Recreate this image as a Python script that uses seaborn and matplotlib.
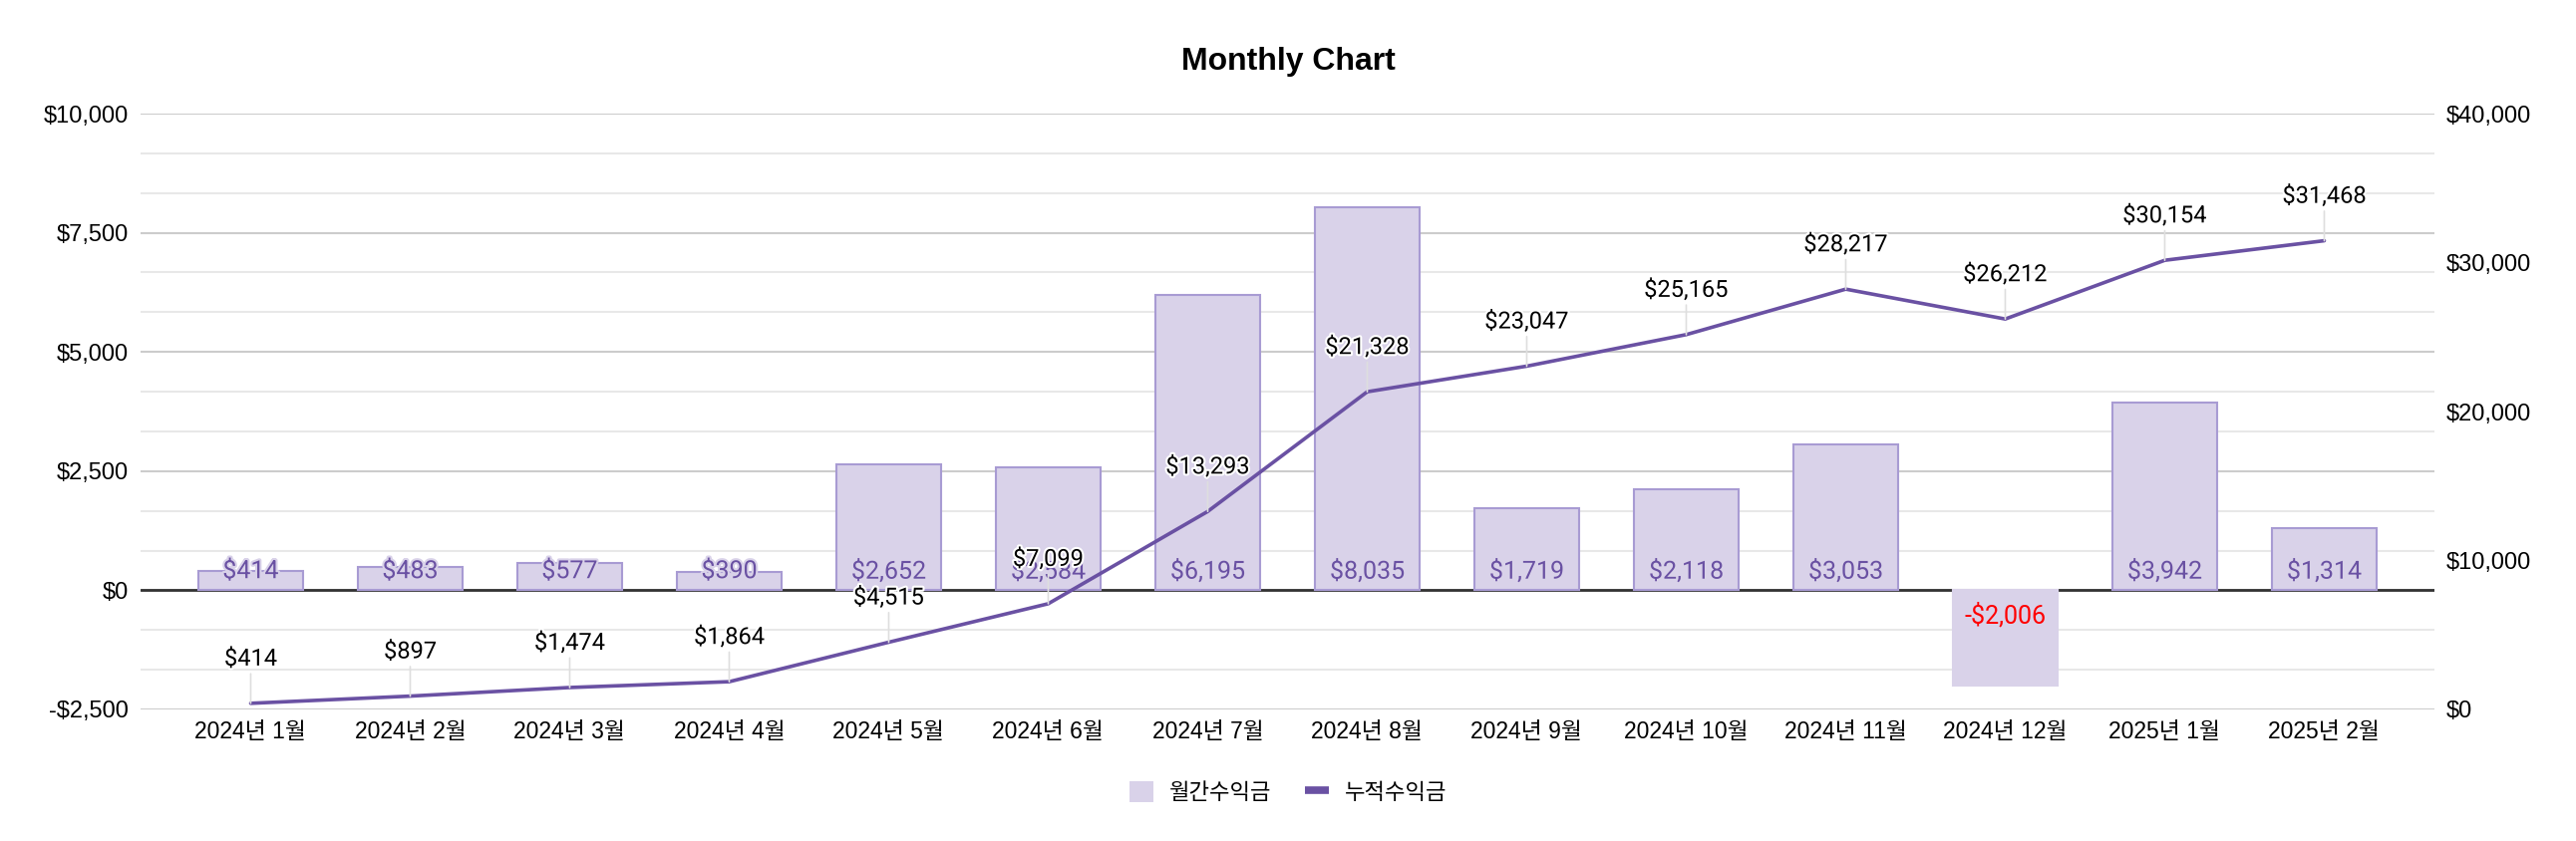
import matplotlib
matplotlib.use("Agg")
import matplotlib.pyplot as plt
import matplotlib.ticker as ticker
import matplotlib.patheffects as pe
from matplotlib.patches import Patch
from matplotlib.lines import Line2D
import seaborn as sns
import pandas as pd
import numpy as np

months = ["2024년 1월", "2024년 2월", "2024년 3월", "2024년 4월", "2024년 5월",
          "2024년 6월", "2024년 7월", "2024년 8월", "2024년 9월", "2024년 10월",
          "2024년 11월", "2024년 12월", "2025년 1월", "2025년 2월"]
monthly = [414, 483, 577, 390, 2652, 2584, 6195, 8035, 1719, 2118, 3053, -2006, 3942, 1314]
cumulative = [414, 897, 1474, 1864, 4515, 7099, 13293, 21328, 23047, 25165, 28217, 26212, 30154, 31468]
left_ticks = [-2500, 0, 2500, 5000, 7500, 10000]
right_ticks = [0, 10000, 20000, 30000, 40000]

BAR = "#d9d2e9"
EDGE = "#a89bd3"
LINE = "#6a51a3"
LABEL = "#6a51a3"

sns.set_theme(style="white")
plt.rcParams["font.family"] = ["Liberation Sans", "Noto Sans CJK KR", "DejaVu Sans"]
plt.rcParams["text.color"] = "black"

df = pd.DataFrame({"month": months, "monthly": monthly, "cumulative": cumulative})
df["pos"] = np.arange(len(df))


def money(v):
    return f"-${-v:,.0f}" if v < 0 else f"${v:,.0f}"


fig = plt.figure(figsize=(25.84, 8.44), dpi=100)
ax = fig.add_axes([0.0546, 0.1564, 0.8904, 0.7085])

sns.barplot(data=df, x="month", y="monthly", ax=ax, color=BAR, saturation=1,
            edgecolor=EDGE, linewidth=1.5, width=0.66)
# negative bar has no outline
for p, v in zip(ax.patches, monthly):
    if v < 0:
        p.set_edgecolor(BAR)

ax.set_ylim(-2500, 10000)
ax.set_yticks(left_ticks)
ax.yaxis.set_minor_locator(ticker.MultipleLocator(2500 / 3))
ax.yaxis.set_major_formatter(ticker.FuncFormatter(lambda x, pos: money(x)))
ax.grid(which="major", axis="y", color="#cccccc", lw=1.5)
ax.grid(which="minor", axis="y", color="#e8e8e8", lw=1.5)
ax.set_axisbelow(True)
ax.axhline(0, color="#333333", lw=2, zorder=0.9)
for s in ax.spines.values():
    s.set_visible(False)
ax.set_xlabel("")
ax.set_ylabel("")

for i, v in enumerate(monthly):
    if v >= 0:
        ax.annotate(money(v), xy=(i, 0), xytext=(0, 14), textcoords="offset points",
                    ha="center", va="center", color=LABEL, fontsize=18, family="Roboto",
                    path_effects=[pe.withStroke(linewidth=3, foreground=BAR)])
    else:
        ax.annotate(money(v), xy=(i, 0), xytext=(0, -18), textcoords="offset points",
                    ha="center", va="center", color="red", fontsize=18, family="Roboto")

ax2 = ax.twinx()
sns.lineplot(data=df, x="pos", y="cumulative", ax=ax2, color=LINE, lw=2.6)
ax2.set_ylim(0, 40000)
ax2.set_yticks(right_ticks)
ax2.yaxis.set_major_formatter(ticker.FuncFormatter(lambda x, pos: money(x)))
ax2.grid(False)
for s in ax2.spines.values():
    s.set_visible(False)
ax2.set_xlabel("")
ax2.set_ylabel("")

for i, c in enumerate(cumulative):
    ax2.annotate(money(c), xy=(i, c), xytext=(0, 32), textcoords="offset points",
                 ha="center", va="center", fontsize=17, family="Roboto", color="black",
                 path_effects=[pe.withStroke(linewidth=3, foreground="white")],
                 arrowprops=dict(arrowstyle="-", color="#dedede", lw=1.2,
                                 shrinkA=0, shrinkB=0))

ax.set_xlim(-0.69, 13.69)
ax.set_xticks(range(len(months)))
ax.set_xticklabels(months)
ax.tick_params(axis="x", which="both", length=0, labelsize=16.5, pad=8, colors="black")
ax.tick_params(axis="y", which="both", length=0, labelsize=17, pad=9, colors="black")
ax2.tick_params(axis="y", which="both", length=0, labelsize=17, pad=8.5, colors="black")

fig.text(0.5, 1 - 62 / 844, "Monthly Chart", ha="center", va="center",
         fontsize=23, fontweight="bold", color="black")

handles = [Patch(facecolor=BAR, edgecolor="none"),
           Line2D([0], [0], color=LINE, lw=5.5, solid_capstyle="butt")]
fig.legend(handles, ["월간수익금", "누적수익금"], loc="center", bbox_to_anchor=(0.5, 0.0575),
           ncol=2, frameon=False, fontsize=16, handlelength=1.1, handleheight=1.1,
           handletextpad=0.7, columnspacing=1.5)

fig.savefig("out.png", dpi=100)
